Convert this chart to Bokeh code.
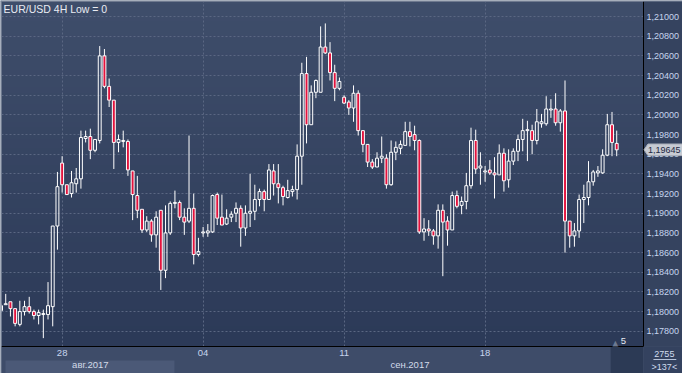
import numpy as np
from bokeh.plotting import figure
from bokeh.models import (Range1d, FixedTicker, CustomJSTickFormatter, LinearAxis, Label)
from bokeh.core.properties import value
from bokeh.embed import file_html
from bokeh.resources import INLINE

# ---- EUR/USD 4H candles ----
open_ = [1.1801, 1.1807, 1.1810, 1.1803, 1.1787, 1.1800, 1.1805, 1.1800, 1.1796, 1.1797,
         1.1797, 1.1805, 1.1887, 1.1951, 1.1929, 1.1920, 1.1930, 1.1935, 1.1976, 1.1978,
         1.1964, 1.1974, 1.2060, 1.2029, 1.2015, 1.1972, 1.1973, 1.1973, 1.1943, 1.1918,
         1.1904, 1.1883, 1.1892, 1.1878, 1.1903, 1.1842, 1.1880, 1.1910, 1.1911, 1.1896,
         1.1892, 1.1905, 1.1858, 1.1880, 1.1880, 1.1881, 1.1919, 1.1896, 1.1889, 1.1896,
         1.1900, 1.1905, 1.1885, 1.1900, 1.1902, 1.1914, 1.1922, 1.1914, 1.1943, 1.1930,
         1.1926, 1.1916, 1.1922, 1.1924, 1.1958, 1.2042, 1.1990, 1.2023, 1.2023, 1.2069,
         1.2063, 1.2043, 1.2027, 1.2018, 1.2013, 1.2007, 1.2022, 1.1984, 1.1970, 1.1952,
         1.1947, 1.1956, 1.1956, 1.1929, 1.1962, 1.1966, 1.1969, 1.1983, 1.1980, 1.1974,
         1.1881, 1.1884, 1.1882, 1.1877, 1.1903, 1.1892, 1.1883, 1.1918, 1.1908, 1.1912,
         1.1928, 1.1974, 1.1946, 1.1942, 1.1944, 1.1941, 1.1939, 1.1961, 1.1934, 1.1953,
         1.1963, 1.1975, 1.1984, 1.1984, 1.1974, 1.1991, 1.1991, 1.2005, 1.2006, 1.1992,
         1.2004, 1.1892, 1.1877, 1.1882, 1.1914, 1.1916, 1.1932, 1.1941, 1.1941, 1.1959,
         1.1990, 1.1971]
high = [1.1808, 1.1818, 1.1810, 1.1803, 1.1811, 1.1811, 1.1815, 1.1802, 1.1802, 1.1802,
        1.1830, 1.1887, 1.1942, 1.1958, 1.1929, 1.1943, 1.1946, 1.1984, 1.1984, 1.1986,
        1.1975, 1.2070, 1.2067, 1.2037, 1.2015, 1.1980, 1.1984, 1.1975, 1.1943, 1.1938,
        1.1904, 1.1897, 1.1894, 1.1902, 1.1903, 1.1908, 1.1912, 1.1923, 1.1913, 1.1905,
        1.1979, 1.1920, 1.1875, 1.1886, 1.1889, 1.1919, 1.1921, 1.1919, 1.1904, 1.1902,
        1.1911, 1.1908, 1.1908, 1.1940, 1.1929, 1.1925, 1.1924, 1.1950, 1.1950, 1.1950,
        1.1928, 1.1934, 1.1928, 1.1970, 1.2053, 1.2059, 1.2030, 1.2036, 1.2090, 1.2093,
        1.2074, 1.2051, 1.2038, 1.2020, 1.2015, 1.2030, 1.2025, 1.1984, 1.1970, 1.1955,
        1.1962, 1.1978, 1.1960, 1.1974, 1.1973, 1.1974, 1.1993, 1.1993, 1.1989, 1.1975,
        1.1895, 1.1893, 1.1884, 1.1909, 1.1909, 1.1897, 1.1922, 1.1923, 1.1917, 1.1941,
        1.1987, 1.1985, 1.1962, 1.1948, 1.1954, 1.1957, 1.1970, 1.1966, 1.1965, 1.1966,
        1.1980, 1.1996, 1.1994, 1.1990, 1.2006, 1.2001, 1.2019, 1.2016, 1.2022, 1.2006,
        1.2035, 1.1892, 1.1890, 1.1919, 1.1929, 1.1953, 1.1944, 1.1948, 1.1965, 1.2001,
        1.2003, 1.1984]
low = [1.1799, 1.1807, 1.1795, 1.1785, 1.1785, 1.1796, 1.1798, 1.1792, 1.1787, 1.1773,
       1.1792, 1.1785, 1.1863, 1.1921, 1.1919, 1.1916, 1.1921, 1.1925, 1.1972, 1.1955,
       1.1962, 1.1971, 1.2027, 1.2008, 1.1945, 1.1962, 1.1967, 1.1938, 1.1893, 1.1895,
       1.1880, 1.1881, 1.1871, 1.1865, 1.1822, 1.1834, 1.1878, 1.1905, 1.1893, 1.1878,
       1.1890, 1.1848, 1.1856, 1.1876, 1.1876, 1.1880, 1.1888, 1.1888, 1.1888, 1.1891,
       1.1891, 1.1866, 1.1877, 1.1886, 1.1893, 1.1907, 1.1902, 1.1914, 1.1918, 1.1910,
       1.1908, 1.1915, 1.1917, 1.1914, 1.1929, 1.1971, 1.1990, 1.2017, 1.2023, 1.2062,
       1.2035, 1.2014, 1.2025, 1.2011, 1.2000, 1.1993, 1.1979, 1.1962, 1.1947, 1.1945,
       1.1947, 1.1951, 1.1925, 1.1928, 1.1954, 1.1960, 1.1969, 1.1968, 1.1964, 1.1879,
       1.1872, 1.1877, 1.1868, 1.1864, 1.1836, 1.1867, 1.1883, 1.1905, 1.1899, 1.1904,
       1.1925, 1.1940, 1.1929, 1.1932, 1.1939, 1.1915, 1.1939, 1.1922, 1.1926, 1.1949,
       1.1953, 1.1963, 1.1953, 1.1960, 1.1970, 1.1987, 1.1989, 1.1997, 1.1989, 1.1983,
       1.1860, 1.1865, 1.1866, 1.1875, 1.1890, 1.1908, 1.1928, 1.1937, 1.1940, 1.1958,
       1.1958, 1.1958]
close = [1.1806, 1.1808, 1.1803, 1.1788, 1.1800, 1.1805, 1.1800, 1.1796, 1.1799, 1.1798,
         1.1806, 1.1887, 1.1927, 1.1929, 1.1919, 1.1931, 1.1935, 1.1977, 1.1978, 1.1964,
         1.1975, 1.2060, 1.2029, 1.2015, 1.1972, 1.1975, 1.1974, 1.1944, 1.1919, 1.1903,
         1.1883, 1.1892, 1.1878, 1.1896, 1.1842, 1.1880, 1.1910, 1.1911, 1.1896, 1.1891,
         1.1905, 1.1858, 1.1861, 1.1881, 1.1882, 1.1918, 1.1895, 1.1888, 1.1895, 1.1899,
         1.1905, 1.1885, 1.1900, 1.1902, 1.1914, 1.1922, 1.1914, 1.1944, 1.1930, 1.1926,
         1.1917, 1.1923, 1.1924, 1.1958, 1.2042, 1.1990, 1.2023, 1.2035, 1.2069, 1.2063,
         1.2043, 1.2027, 1.2034, 1.2012, 1.2007, 1.2022, 1.1984, 1.1970, 1.1952, 1.1947,
         1.1956, 1.1958, 1.1929, 1.1962, 1.1967, 1.1970, 1.1983, 1.1978, 1.1974, 1.1881,
         1.1884, 1.1882, 1.1877, 1.1903, 1.1891, 1.1883, 1.1918, 1.1907, 1.1912, 1.1928,
         1.1974, 1.1945, 1.1948, 1.1943, 1.1941, 1.1939, 1.1961, 1.1933, 1.1953, 1.1963,
         1.1975, 1.1984, 1.1985, 1.1974, 1.1993, 1.1993, 1.2006, 1.2006, 1.1992, 1.2004,
         1.1892, 1.1877, 1.1882, 1.1914, 1.1916, 1.1932, 1.1942, 1.1943, 1.1959, 1.1990,
         1.1972, 1.19645]

# axis ticks / labels
price_ticks = [1.178, 1.180, 1.182, 1.184, 1.186, 1.188, 1.190, 1.192, 1.194,
               1.196, 1.198, 1.200, 1.202, 1.204, 1.206, 1.208, 1.210]
day_ticks = [13, 43, 73, 103]          # bar index of Monday 00:00
day_labels = ["28", "04", "11", "18"]
month_start = [0, 37]                  # first bar of August / September in view
month_labels = ["авг.2017", "сен.2017"]
last_price = 1.19645
bars_total = "2755"
bars_visible = ">137<"
scroll_label = "5"

X0, X1 = 0.1, 136.7
Y0, Y1 = 1.17645, 1.21153
PXY = (Y1 - Y0) / 345.0        # price per screen pixel
PXX = 646.0 / (X1 - X0)        # screen pixels per bar

BG_TOP = (63, 78, 107)
BG_BOT = (44, 58, 88)
GRID = "#5a6782"
RED = "#e3123d"
LABEL = "#c6d5ee"
FONT = "Liberation Sans"


def ypix(page_y):
    return Y1 - (page_y - 9) * PXY


def xpix(page_x):
    return X0 + (page_x - 9) / PXX


p = figure(width=682, height=373, x_range=Range1d(X0, X1), y_range=Range1d(Y0, Y1),
           y_axis_location="right", output_backend="svg", toolbar_location=None,
           min_border_left=1, min_border_top=1, min_border_right=35, min_border_bottom=27,
           background_fill_color="#34425f", border_fill_color="#3e4c69",
           outline_line_color=None)

# background gradient of the plot area
n = 120
img = np.zeros((n, 1), dtype=np.uint32)
view = img.view(dtype=np.uint8).reshape((n, 1, 4))
for r in range(n):
    t = r / (n - 1)
    for k in range(3):
        view[r, 0, k] = int(BG_BOT[k] + (BG_TOP[k] - BG_BOT[k]) * t)
    view[r, 0, 3] = 255
p.image_rgba(image=[img], x=X0, y=Y0, dw=X1 - X0, dh=Y1 - Y0, level="image")


def plain(ax):
    ax.major_tick_line_color = None
    ax.minor_tick_line_color = None
    ax.major_tick_out = 0
    ax.major_tick_in = 0
    ax.minor_tick_out = 0
    ax.minor_tick_in = 0


# axes
ya = p.yaxis[0]
ya.ticker = FixedTicker(ticks=price_ticks)
ya.formatter = CustomJSTickFormatter(code="return tick.toFixed(5).replace('.', ',');")
plain(ya)
ya.axis_line_color = "black"
ya.major_label_standoff = 3
ya.major_label_text_color = LABEL
ya.major_label_text_font = FONT
ya.major_label_text_font_size = "9px"
ya.background_fill_color = "#35435f"

xa = p.xaxis[0]
xa.ticker = FixedTicker(ticks=day_ticks)
xa.major_label_overrides = {t: s for t, s in zip(day_ticks, day_labels)}
plain(xa)
xa.axis_line_color = "black"
xa.major_label_standoff = 3
xa.major_label_text_color = LABEL
xa.major_label_text_font = FONT
xa.major_label_text_font_size = "9.5px"

bounds = month_start[1:] + [X1]
month_pos = [int(round((max(s, X0) + e) / 2)) for s, e in zip(month_start, bounds)]
ma = LinearAxis(ticker=FixedTicker(ticks=month_pos),
                major_label_overrides={t: s for t, s in zip(month_pos, month_labels)})
plain(ma)
ma.axis_line_color = None
ma.major_label_standoff = 0
ma.major_label_text_color = "#d3dbe9"
ma.major_label_text_font = FONT
ma.major_label_text_font_size = "9.5px"
p.add_layout(ma, "below")

# grid
p.xgrid.grid_line_color = GRID
p.xgrid.grid_line_dash = "2 2"
p.ygrid.grid_line_color = GRID
p.ygrid.grid_line_dash = "2 2"

# panels outside the plot area (drawn unclipped)
p.quad(left=[xpix(13)], right=[month_start[1] - 0.1], bottom=[ypix(382)], top=[ypix(368)],
       fill_color="#4b5977", line_color=None, level="guide")
p.quad(left=[xpix(622)], right=[xpix(654.5)], bottom=[ypix(382)], top=[ypix(354.5)],
       fill_color="#2c3a55", line_color=None, level="guide")
p.quad(left=[xpix(655)], right=[xpix(700)], bottom=[ypix(382)], top=[ypix(354.5)],
       fill_color="#34425f", line_color=None, level="guide")
p.quad(left=[xpix(665)], right=[xpix(688)], bottom=[ypix(367.5)], top=[ypix(366.6)],
       fill_color="#c5d2e8", line_color=None, level="overlay")
# thin frame edges (left / top)
p.quad(left=[xpix(8)], right=[xpix(9)], bottom=[ypix(382)], top=[ypix(8)],
       fill_color="#7f8a9e", line_color=None, level="overlay")
p.quad(left=[xpix(8)], right=[xpix(700)], bottom=[ypix(9)], top=[ypix(8)],
       fill_color="#7f8a9e", line_color=None, level="overlay")

# candles
idx = list(range(len(open_)))
top = [max(o, c) for o, c in zip(open_, close)]
bot = [min(o, c) for o, c in zip(open_, close)]
p.segment(x0=idx, y0=top, x1=idx, y1=high, line_color="white", line_width=1)
p.segment(x0=idx, y0=low, x1=idx, y1=bot, line_color="white", line_width=1)
up = [i for i in idx if close[i] >= open_[i]]
dn = [i for i in idx if close[i] < open_[i]]
p.vbar(x=up, top=[top[i] for i in up], bottom=[bot[i] for i in up], width=0.62,
       fill_alpha=0, line_color="white", line_width=1)
p.vbar(x=dn, top=[top[i] for i in dn], bottom=[bot[i] for i in dn], width=0.62,
       fill_color=RED, line_color="white", line_width=1)

# price tag at the last close
th = 5.8 * PXY
p.patch(x=[xpix(655.5), xpix(659.5), xpix(699), xpix(699), xpix(659.5)],
        y=[last_price, last_price + th, last_price + th, last_price - th, last_price - th],
        fill_color="#c7cbd3", line_color="#aab0bb", line_width=1, level="overlay")
p.text(x=[xpix(659.5)], y=[last_price], text=[f"{last_price:.5f}".replace(".", ",")],
       text_color="#1d2844", text_font=value(FONT), text_font_size=value("9px"),
       text_baseline="middle", text_align="left", level="overlay")

# corner texts
p.text(x=[xpix(676), xpix(676)], y=[ypix(361.5), ypix(374)],
       text=[bars_total, bars_visible], text_color="#d0dbee", text_font=value(FONT),
       text_font_size=value("9px"), text_baseline="middle", text_align="center",
       level="overlay")

# texts inside the plot area
p.add_layout(Label(x=0.55, y=ypix(10), text="EUR/USD 4H Low = 0", text_color="#e9ecf3",
                   text_font=FONT, text_font_size="10.5px", text_baseline="top"))
p.add_layout(Label(x=xpix(623.5), y=ypix(350.5), text="▲", text_color="#6c7992",
                   text_font="DejaVu Sans", text_font_size="8px", text_baseline="middle"))
p.add_layout(Label(x=xpix(632), y=ypix(348), text=scroll_label, text_color="#e6eaf2",
                   text_font=FONT, text_font_size="9.5px", text_baseline="middle"))

html = file_html(p, INLINE, title="EUR/USD 4H")
html = html.replace("<body>", '<body style="background:#c4cdda;">', 1)
open("out.html", "w").write(html)
